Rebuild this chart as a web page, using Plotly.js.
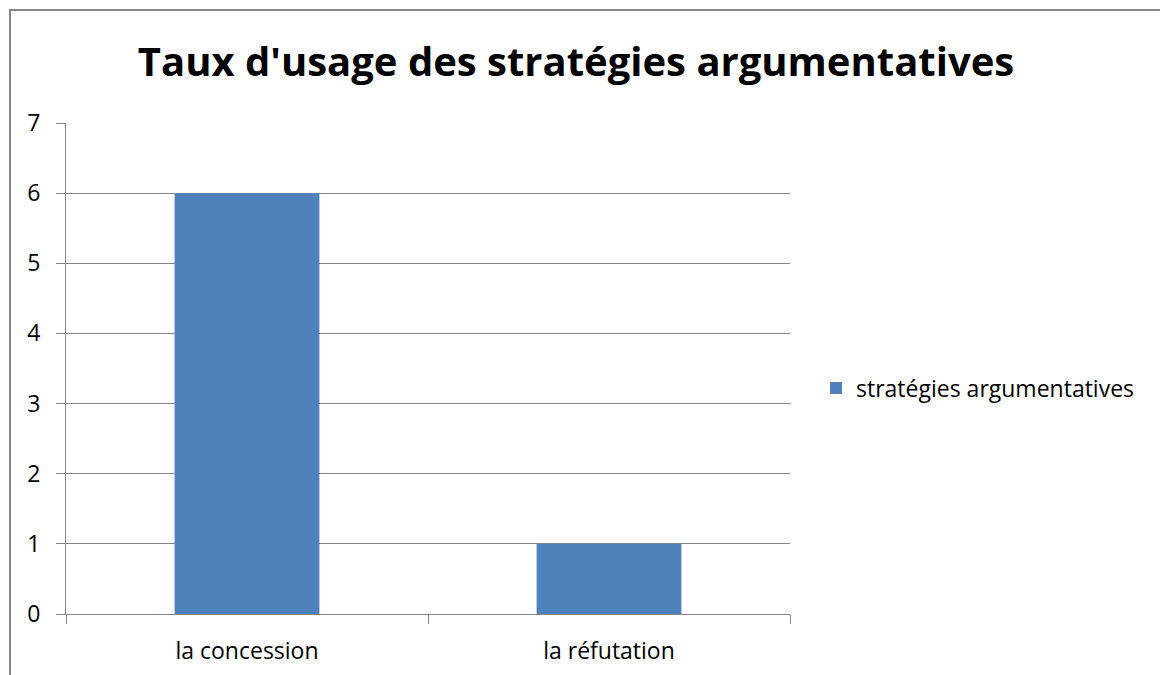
<!DOCTYPE html>
<html>
<head>
<meta charset="utf-8">
<script src="https://cdn.plot.ly/plotly-3.0.1.min.js"></script>
<style>html,body{margin:0;padding:0;background:#fff;}</style>
</head>
<body>
<div id="chart" style="width:1160px;height:675px;"></div>
<script>
const categories = ["la concession", "la réfutation"];
const seriesName = "stratégies argumentatives";
const values = [6, 1];
const yTicks = [0, 1, 2, 3, 4, 5, 6, 7];
const chartTitle = "Taux d'usage des stratégies argumentatives";

const FONT = "'Open Sans', 'Liberation Sans', sans-serif";
const GRAY = "#868686";

const data = [{
  type: "bar",
  x: categories,
  y: values,
  name: seriesName,
  marker: {color: "#4F81BD"},
  width: 0.4
}];

const layout = {
  width: 1160,
  height: 675,
  margin: {l: 66, r: 370, t: 123, b: 61, pad: 0},
  paper_bgcolor: "#ffffff",
  plot_bgcolor: "#ffffff",
  font: {family: FONT, size: 23, color: "#000000"},
  title: {
    text: "<b>" + chartTitle + "</b>",
    font: {family: FONT, size: 40, color: "#000000"},
    x: 576 / 1160,
    xanchor: "center",
    xref: "container",
    y: 1 - 62 / 675,
    yanchor: "middle",
    yref: "container"
  },
  xaxis: {
    type: "category",
    showline: true,
    linecolor: GRAY,
    linewidth: 1,
    ticks: "outside",
    tickson: "boundaries",
    ticklen: 9,
    tickcolor: GRAY,
    showgrid: false,
    zeroline: false,
    tickfont: {family: FONT, size: 23, color: "#000"},
    ticklabelstandoff: 16,
    fixedrange: true
  },
  yaxis: {
    range: [0, 7],
    tickvals: yTicks,
    showline: true,
    linecolor: GRAY,
    linewidth: 1,
    ticks: "outside",
    ticklen: 9,
    tickcolor: GRAY,
    showgrid: true,
    gridcolor: GRAY,
    gridwidth: 1,
    zeroline: false,
    tickfont: {family: FONT, size: 23, color: "#000"},
    ticklabelstandoff: 11,
    fixedrange: true
  },
  showlegend: true,
  legend: {
    x: (816 - 66) / 724,
    xanchor: "left",
    xref: "paper",
    y: (614 - 388) / 491,
    yanchor: "middle",
    yref: "paper",
    font: {family: FONT, size: 23, color: "#000"},
    bgcolor: "rgba(0,0,0,0)",
    borderwidth: 0
  },
  shapes: [{
    type: "rect",
    xref: "paper", yref: "paper",
    x0: (10 - 66) / 724,
    x1: (1170 - 66) / 724,
    y0: (614 - 690) / 491,
    y1: (614 - 10) / 491,
    line: {color: GRAY, width: 2},
    fillcolor: "rgba(0,0,0,0)",
    layer: "below"
  }]
};

Plotly.newPlot("chart", data, layout, {displayModeBar: false, staticPlot: true});
</script>
</body>
</html>
